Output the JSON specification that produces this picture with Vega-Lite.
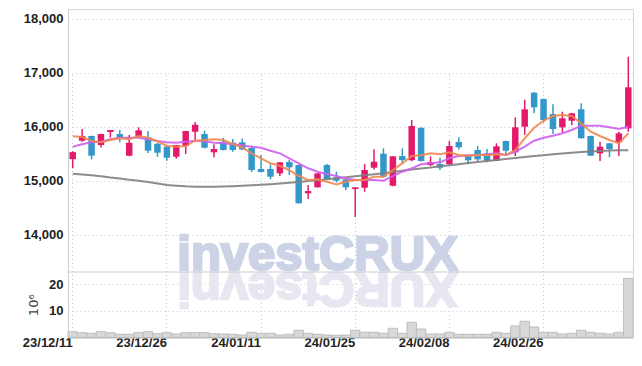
{
  "$schema": "https://vega.github.io/schema/vega-lite/v6.json",
  "width": 565,
  "height": 328.5,
  "autosize": {"type": "none"},
  "padding": {"left": 68, "top": 9, "right": 9, "bottom": 28.5},
  "background": "white",
  "config": {
    "view": {"stroke": "#d6d6d6"},
    "axis": {
      "labelFont": "Liberation Sans",
      "labelFontWeight": "bold",
      "labelFontSize": 13,
      "labelColor": "#222222",
      "ticks": false,
      "domainColor": "#cccccc",
      "gridColor": "#c2c6da",
      "gridDash": [1, 3],
      "gridWidth": 1
    }
  },
  "datasets": {
    "wm": [{"d": "24/01/19", "p": 13340, "q": 24.5}],
    "sep": [{"q": 24.7}]
  },
  "data": {
    "values": [
      {"d": "23/12/11", "o": 15400, "h": 15545, "l": 15230, "c": 15530, "v": 2.19, "m5": 15822, "m10": 15630, "m60": 15130},
      {"d": "23/12/12", "o": 15741, "h": 15957, "l": 15722, "c": 15828, "v": 1.81, "m5": 15809, "m10": 15674, "m60": 15115},
      {"d": "23/12/13", "o": 15828, "h": 15835, "l": 15396, "c": 15463, "v": 1.58, "m5": 15741, "m10": 15711, "m60": 15100},
      {"d": "23/12/14", "o": 15661, "h": 15870, "l": 15615, "c": 15865, "v": 2.19, "m5": 15711, "m10": 15722, "m60": 15081},
      {"d": "23/12/15", "o": 15902, "h": 15940, "l": 15800, "c": 15938, "v": 1.81, "m5": 15754, "m10": 15767, "m60": 15059},
      {"d": "23/12/18", "o": 15865, "h": 15938, "l": 15711, "c": 15791, "v": 1.21, "m5": 15785, "m10": 15796, "m60": 15041},
      {"d": "23/12/19", "o": 15463, "h": 15846, "l": 15455, "c": 15704, "v": 1.21, "m5": 15767, "m10": 15796, "m60": 15018},
      {"d": "23/12/20", "o": 15815, "h": 15989, "l": 15810, "c": 15933, "v": 1.81, "m5": 15828, "m10": 15796, "m60": 15000},
      {"d": "23/12/21", "o": 15804, "h": 15920, "l": 15513, "c": 15556, "v": 2.19, "m5": 15796, "m10": 15767, "m60": 14976},
      {"d": "23/12/22", "o": 15685, "h": 15700, "l": 15444, "c": 15519, "v": 1.43, "m5": 15730, "m10": 15735, "m60": 14948},
      {"d": "23/12/26", "o": 15630, "h": 15660, "l": 15370, "c": 15426, "v": 1.81, "m5": 15648, "m10": 15711, "m60": 14920},
      {"d": "23/12/27", "o": 15444, "h": 15665, "l": 15407, "c": 15661, "v": 1.32, "m5": 15630, "m10": 15704, "m60": 14907},
      {"d": "23/12/28", "o": 15643, "h": 15925, "l": 15494, "c": 15920, "v": 1.81, "m5": 15643, "m10": 15722, "m60": 14896},
      {"d": "24/01/02", "o": 15907, "h": 16087, "l": 15741, "c": 16037, "v": 1.81, "m5": 15741, "m10": 15741, "m60": 14889},
      {"d": "24/01/03", "o": 15865, "h": 15926, "l": 15600, "c": 15611, "v": 1.81, "m5": 15754, "m10": 15730, "m60": 14889},
      {"d": "24/01/04", "o": 15526, "h": 15674, "l": 15433, "c": 15587, "v": 1.43, "m5": 15767, "m10": 15704, "m60": 14889},
      {"d": "24/01/05", "o": 15722, "h": 15796, "l": 15560, "c": 15569, "v": 1.32, "m5": 15754, "m10": 15693, "m60": 14893},
      {"d": "24/01/08", "o": 15704, "h": 15772, "l": 15537, "c": 15569, "v": 1.21, "m5": 15680, "m10": 15674, "m60": 14898},
      {"d": "24/01/09", "o": 15711, "h": 15780, "l": 15570, "c": 15581, "v": 0.94, "m5": 15619, "m10": 15656, "m60": 14906},
      {"d": "24/01/10", "o": 15606, "h": 15650, "l": 15161, "c": 15198, "v": 1.96, "m5": 15507, "m10": 15630, "m60": 14915},
      {"d": "24/01/11", "o": 15217, "h": 15476, "l": 15155, "c": 15161, "v": 1.58, "m5": 15415, "m10": 15611, "m60": 14924},
      {"d": "24/01/12", "o": 15217, "h": 15304, "l": 15026, "c": 15074, "v": 1.58, "m5": 15322, "m10": 15556, "m60": 14935},
      {"d": "24/01/15", "o": 15137, "h": 15345, "l": 15087, "c": 15341, "v": 0.94, "m5": 15278, "m10": 15507, "m60": 14948},
      {"d": "24/01/16", "o": 15346, "h": 15383, "l": 15106, "c": 15248, "v": 1.21, "m5": 15198, "m10": 15415, "m60": 14961},
      {"d": "24/01/17", "o": 15291, "h": 15300, "l": 14580, "c": 14582, "v": 2.72, "m5": 15087, "m10": 15322, "m60": 14976},
      {"d": "24/01/18", "o": 14767, "h": 14920, "l": 14661, "c": 14809, "v": 1.58, "m5": 15013, "m10": 15230, "m60": 14994},
      {"d": "24/01/19", "o": 14878, "h": 15140, "l": 14875, "c": 15137, "v": 1.21, "m5": 15026, "m10": 15167, "m60": 15009},
      {"d": "24/01/22", "o": 15291, "h": 15309, "l": 15020, "c": 15026, "v": 0.94, "m5": 14981, "m10": 15124, "m60": 15026},
      {"d": "24/01/23", "o": 15063, "h": 15167, "l": 14970, "c": 15000, "v": 0.83, "m5": 14933, "m10": 15087, "m60": 15044},
      {"d": "24/01/24", "o": 15026, "h": 15030, "l": 14828, "c": 14878, "v": 0.94, "m5": 14981, "m10": 15044, "m60": 15063},
      {"d": "24/01/25", "o": 14846, "h": 14880, "l": 14330, "c": 14878, "v": 2.72, "m5": 15013, "m10": 15013, "m60": 15081},
      {"d": "24/01/26", "o": 14870, "h": 15309, "l": 14796, "c": 15198, "v": 1.96, "m5": 15013, "m10": 15013, "m60": 15100},
      {"d": "24/01/29", "o": 15241, "h": 15581, "l": 15210, "c": 15352, "v": 1.96, "m5": 15074, "m10": 15013, "m60": 15118},
      {"d": "24/01/30", "o": 15500, "h": 15600, "l": 15060, "c": 15074, "v": 1.58, "m5": 15074, "m10": 15000, "m60": 15137},
      {"d": "24/01/31", "o": 14907, "h": 15455, "l": 14900, "c": 15452, "v": 3.47, "m5": 15198, "m10": 15087, "m60": 15161},
      {"d": "24/02/01", "o": 15457, "h": 15600, "l": 15322, "c": 15383, "v": 1.58, "m5": 15322, "m10": 15167, "m60": 15185},
      {"d": "24/02/02", "o": 15380, "h": 16124, "l": 15360, "c": 16013, "v": 5.74, "m5": 15457, "m10": 15230, "m60": 15207},
      {"d": "24/02/05", "o": 15981, "h": 15985, "l": 15350, "c": 15365, "v": 3.21, "m5": 15470, "m10": 15304, "m60": 15226},
      {"d": "24/02/06", "o": 15291, "h": 15450, "l": 15270, "c": 15346, "v": 1.32, "m5": 15507, "m10": 15322, "m60": 15244},
      {"d": "24/02/07", "o": 15309, "h": 15426, "l": 15200, "c": 15241, "v": 1.32, "m5": 15489, "m10": 15341, "m60": 15267},
      {"d": "24/02/08", "o": 15309, "h": 15735, "l": 15291, "c": 15643, "v": 1.96, "m5": 15526, "m10": 15415, "m60": 15285},
      {"d": "24/02/13", "o": 15717, "h": 15804, "l": 15574, "c": 15619, "v": 1.21, "m5": 15476, "m10": 15457, "m60": 15306},
      {"d": "24/02/14", "o": 15457, "h": 15465, "l": 15304, "c": 15378, "v": 1.21, "m5": 15463, "m10": 15470, "m60": 15328},
      {"d": "24/02/15", "o": 15569, "h": 15643, "l": 15365, "c": 15396, "v": 1.21, "m5": 15476, "m10": 15476, "m60": 15346},
      {"d": "24/02/16", "o": 15507, "h": 15587, "l": 15341, "c": 15370, "v": 1.21, "m5": 15476, "m10": 15489, "m60": 15365},
      {"d": "24/02/19", "o": 15370, "h": 15693, "l": 15365, "c": 15637, "v": 1.96, "m5": 15489, "m10": 15507, "m60": 15383},
      {"d": "24/02/20", "o": 15735, "h": 15740, "l": 15490, "c": 15556, "v": 1.58, "m5": 15476, "m10": 15476, "m60": 15402},
      {"d": "24/02/21", "o": 15526, "h": 16174, "l": 15457, "c": 15989, "v": 4.34, "m5": 15568, "m10": 15537, "m60": 15420},
      {"d": "24/02/22", "o": 16000, "h": 16500, "l": 15850, "c": 16322, "v": 6.11, "m5": 15785, "m10": 15630, "m60": 15439},
      {"d": "24/02/23", "o": 16630, "h": 16645, "l": 16248, "c": 16359, "v": 3.96, "m5": 15981, "m10": 15741, "m60": 15457},
      {"d": "24/02/26", "o": 16513, "h": 16520, "l": 16080, "c": 16124, "v": 1.96, "m5": 16111, "m10": 15796, "m60": 15472},
      {"d": "24/02/27", "o": 16235, "h": 16415, "l": 15865, "c": 15957, "v": 1.96, "m5": 16198, "m10": 15833, "m60": 15489},
      {"d": "24/02/28", "o": 15989, "h": 16278, "l": 15896, "c": 16156, "v": 1.32, "m5": 16217, "m10": 15878, "m60": 15504},
      {"d": "24/02/29", "o": 16111, "h": 16255, "l": 16031, "c": 16248, "v": 1.58, "m5": 16198, "m10": 15939, "m60": 15519},
      {"d": "24/03/04", "o": 16322, "h": 16433, "l": 15780, "c": 15785, "v": 2.72, "m5": 16063, "m10": 16019, "m60": 15531},
      {"d": "24/03/05", "o": 15828, "h": 15835, "l": 15460, "c": 15463, "v": 1.96, "m5": 15907, "m10": 16019, "m60": 15543},
      {"d": "24/03/06", "o": 15507, "h": 15722, "l": 15365, "c": 15630, "v": 1.58, "m5": 15828, "m10": 16019, "m60": 15552},
      {"d": "24/03/07", "o": 15693, "h": 15700, "l": 15433, "c": 15587, "v": 1.32, "m5": 15754, "m10": 15989, "m60": 15559},
      {"d": "24/03/08", "o": 15711, "h": 15907, "l": 15457, "c": 15877, "v": 1.96, "m5": 15693, "m10": 15957, "m60": 15563},
      {"d": "24/03/11", "o": 15970, "h": 17296, "l": 15907, "c": 16730, "v": 22.3, "m5": 15878, "m10": 16000, "m60": 15565}
    ]
  },
  "layer": [
    {
      "layer": [
        {
          "data": {"name": "wm"},
          "mark": {"type": "text", "text": "investCRUX", "font": "Liberation Sans", "fontWeight": "bold", "fontSize": 49, "color": "#cdd3e7", "stroke": "#cdd3e7", "strokeWidth": 2.5, "align": "center", "baseline": "alphabetic"},
          "encoding": {
            "x": {"field": "d", "type": "ordinal", "title": null},
            "y": {
              "field": "p",
              "type": "quantitative",
              "title": null,
              "scale": {"domain": [13310, 18180], "range": [263, 0], "nice": false, "zero": false},
              "axis": {"values": [14000, 15000, 16000, 17000, 18000], "format": ",d", "title": null, "labelPadding": 5, "grid": true}
            }
          }
        },
        {
          "mark": {"type": "rule", "strokeWidth": 1.5},
          "encoding": {
            "x": {
              "field": "d",
              "type": "ordinal",
              "title": null,
              "sort": null,
              "scale": {
                "domain": ["23/12/11","23/12/12","23/12/13","23/12/14","23/12/15","23/12/18","23/12/19","23/12/20","23/12/21","23/12/22","23/12/26","23/12/27","23/12/28","24/01/02","24/01/03","24/01/04","24/01/05","24/01/08","24/01/09","24/01/10","24/01/11","24/01/12","24/01/15","24/01/16","24/01/17","24/01/18","24/01/19","24/01/22","24/01/23","24/01/24","24/01/25","24/01/26","24/01/29","24/01/30","24/01/31","24/02/01","24/02/02","24/02/05","24/02/06","24/02/07","24/02/08","24/02/13","24/02/14","24/02/15","24/02/16","24/02/19","24/02/20","24/02/21","24/02/22","24/02/23","24/02/26","24/02/27","24/02/28","24/02/29","24/03/04","24/03/05","24/03/06","24/03/07","24/03/08","24/03/11"],
                "paddingInner": 0,
                "paddingOuter": 0
              },
              "axis": {
                "values": ["23/12/11", "23/12/26", "24/01/11", "24/01/25", "24/02/08", "24/02/26"],
                "labelAngle": 0,
                "title": null,
                "labelPadding": 5,
                "grid": true
              }
            },
            "y": {"field": "l", "type": "quantitative", "title": null},
            "y2": {"field": "h"},
            "color": {"condition": {"test": "datum.o < datum.c", "value": "#e31a6b"}, "value": "#3398c9"}
          }
        },
        {
          "mark": {"type": "bar", "size": 6.5},
          "encoding": {
            "x": {"field": "d", "type": "ordinal", "title": null},
            "y": {"field": "o", "type": "quantitative", "title": null},
            "y2": {"field": "c"},
            "color": {"condition": {"test": "datum.o < datum.c", "value": "#e31a6b"}, "value": "#3398c9"}
          }
        },
        {
          "mark": {"type": "line", "color": "#808080", "strokeWidth": 2, "opacity": 0.9},
          "encoding": {
            "x": {"field": "d", "type": "ordinal", "title": null},
            "y": {"field": "m60", "type": "quantitative", "title": null}
          }
        },
        {
          "mark": {"type": "line", "color": "#cf5ef0", "strokeWidth": 2, "opacity": 0.9},
          "encoding": {
            "x": {"field": "d", "type": "ordinal", "title": null},
            "y": {"field": "m10", "type": "quantitative", "title": null}
          }
        },
        {
          "mark": {"type": "line", "color": "#f0874c", "strokeWidth": 2, "opacity": 0.9},
          "encoding": {
            "x": {"field": "d", "type": "ordinal", "title": null},
            "y": {"field": "m5", "type": "quantitative", "title": null}
          }
        }
      ]
    },
    {
      "layer": [
        {
          "mark": {"type": "bar", "color": "#d8d8d8", "stroke": "#bdbdbd", "strokeWidth": 1},
          "encoding": {
            "x": {"field": "d", "type": "ordinal", "title": null},
            "y": {
              "field": "v",
              "type": "quantitative",
              "title": "10⁶",
              "scale": {"domain": [0, 24.7], "range": [328.5, 263], "nice": false, "zero": true},
              "axis": {"orient": "left", "values": [10, 20], "title": "10⁶", "titleFont": "DejaVu Sans", "titleFontWeight": "normal", "titleFontSize": 13, "titleColor": "#444444", "titlePadding": 8, "labelPadding": 5, "grid": true}
            }
          }
        },
        {
          "data": {"name": "wm"},
          "mark": {"type": "text", "text": "XURCtsevni", "font": "Liberation Sans", "fontWeight": "bold", "fontSize": 49, "color": "#e6e7f1", "stroke": "#e6e7f1", "strokeWidth": 2.5, "align": "center", "baseline": "alphabetic", "angle": 180},
          "encoding": {
            "x": {"field": "d", "type": "ordinal", "title": null},
            "y": {"field": "q", "type": "quantitative", "title": "10⁶"}
          }
        },
        {
          "data": {"name": "sep"},
          "mark": {"type": "rule", "color": "#cccccc", "strokeWidth": 1},
          "encoding": {"y": {"field": "q", "type": "quantitative", "title": "10⁶"}}
        }
      ]
    }
  ],
  "resolve": {"scale": {"y": "independent"}, "axis": {"y": "independent"}}
}
